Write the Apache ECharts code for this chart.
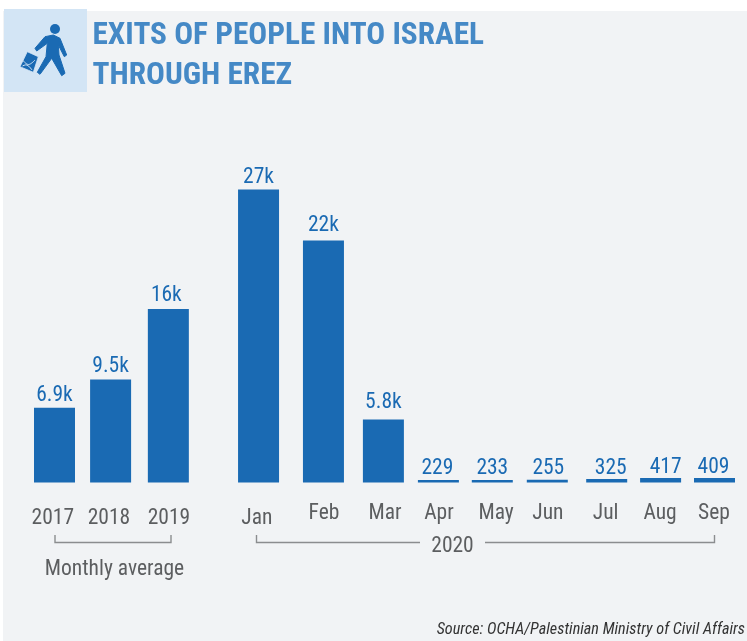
<!DOCTYPE html>
<html><head><meta charset="utf-8">
<style>html,body{margin:0;padding:0;background:#fff}#c{width:747px;height:641px}</style>
<script src="https://cdn.jsdelivr.net/npm/echarts@6/dist/echarts.min.js"></script>
</head><body><div id="c"></div>
<script>
const periods = ['2017','2018','2019','Jan','Feb','Mar','Apr','May','Jun','Jul','Aug','Sep'];
const exitsOfPeople = [6900,9500,16000,27000,22300,5800,229,233,255,325,417,409];
const valueLabels = ['6.9k','9.5k','16k','27k','22k','5.8k','229','233','255','325','417','409'];
const titleText = 'EXITS OF PEOPLE INTO ISRAEL\nTHROUGH EREZ';
const sourceText = 'Source: OCHA/Palestinian Ministry of Civil Affairs';
const groupAverage = 'Monthly average';
const groupYear = '2020';

// Layout only: the reference spaces its periods unevenly along the axis.
const barSlots = [0,1.02,2.07,3.71,4.89,5.98,6.98,7.96,8.96,10.04,11.02,12];
const labelSlots = [-0.03,0.99,2.08,3.68,4.9,6.01,6.99,8.03,8.97,10.02,11.01,11.99];
const lowLabelCount = 4;
const labelNudge = [[0,1],[0,0],[-2,0],[0,1],[0,-2],[0,-4],[-1,2],[0,2],[1,2],[4,3],[5,3],[-1,3]];

const FONT = '"Roboto Condensed",Roboto,sans-serif';
const BLUE = '#1a6ab3', GREY = '#5c5e60', RULE = '#8b8d8f', ICON_BG = '#d3e5f5';

const nameAt = v => {
  let best = 0;
  labelSlots.forEach((s,i) => { if (Math.abs(s-v) < Math.abs(labelSlots[best]-v)) best = i; });
  return periods[best];
};
const rule = pts => ({type:'polyline', silent:true, shape:{points:pts}, style:{stroke:RULE, lineWidth:1.4, fill:null}});
const label = (text,x,y,size,extra) => ({type:'text', silent:true, x, y, style:Object.assign({
  text, fontFamily:FONT, fontSize:size, fill:GREY, align:'center', verticalAlign:'middle'}, extra||{})});
const bagLine = pts => ({type:'polyline', silent:true, shape:{points:pts, smooth:0.4}, style:{stroke:ICON_BG, lineWidth:1, fill:null}});

const xAxisBase = {type:'value', min:-1, max:13, splitLine:{show:false}, axisLine:{show:false}, axisTick:{show:false}, position:'bottom'};
const axisText = {fontFamily:FONT, fontSize:21.5, color:GREY, formatter:nameAt, hideOverlap:false, showMinLabel:true, showMaxLabel:true};

const chart = echarts.init(document.getElementById('c'), null, {renderer:'canvas'});
chart.setOption({
  animation:false,
  backgroundColor:'#fff',
  title:{text:titleText, left:92.5, top:16, padding:0, textStyle:{fontFamily:FONT, fontSize:31.3, fontWeight:'bold', color:'#4589c6', lineHeight:40}},
  grid:{left:-0.5, right:-22.5, top:157, bottom:158.5, outerBoundsMode:'none'},
  xAxis:[
    Object.assign({}, xAxisBase, {axisLabel:Object.assign({}, axisText, {margin:20, customValues:labelSlots.slice(lowLabelCount)})}),
    Object.assign({}, xAxisBase, {axisLabel:Object.assign({}, axisText, {margin:25, customValues:labelSlots.slice(0,lowLabelCount)})})
  ],
  yAxis:{type:'value', min:0, max:30000, show:false},
  series:[{
    type:'bar', xAxisIndex:0, barWidth:41, itemStyle:{color:BLUE},
    data:exitsOfPeople.map((v,i) => ({
      value:[barSlots[i], v],
      label:{show:true, position:'top', distance:2, offset:labelNudge[i], formatter:valueLabels[i],
             fontFamily:FONT, fontSize:21.5, color:BLUE}
    }))
  }],
  graphic:{elements:[
    {type:'rect', z:-10, silent:true, shape:{x:3,y:11,width:744,height:630}, style:{fill:'#f1f3f5'}},
    {type:'rect', z:-9, silent:true, shape:{x:4,y:9,width:83,height:83}, style:{fill:ICON_BG}},
    {type:'circle', silent:true, shape:{cx:55,cy:29,r:5}, style:{fill:BLUE}},
    {type:'polygon', silent:true, shape:{points:[[35,48.3],[45,36.7],[53.3,35],[60,38.3],[66.7,55],[64.3,56.7],[58.3,45],[59,55],[65,73.3],[61.7,75.7],[51.7,58.3],[40,74.3],[37.3,72.3],[46,56.7],[47.3,43.3],[36.7,51]]},
      style:{fill:BLUE, stroke:BLUE, lineWidth:1, lineJoin:'round'}},
    {type:'polygon', silent:true, shape:{points:[[27.3,51.7],[38.3,56.7],[33.3,72.3],[20,66.7]]}, style:{fill:BLUE, stroke:ICON_BG, lineWidth:0.8}},
    bagLine([[22.5,60],[28.5,64.5],[35,60]]),
    bagLine([[22.5,66],[27,65],[32,70]]),
    rule([[55,535],[55,542.5],[171,542.5],[171,535]]),
    rule([[256.5,535],[256.5,542.5],[420,542.5]]),
    rule([[485,542.5],[714.5,542.5],[714.5,535]]),
    label(groupYear,452.5,547,21.5),
    label(groupAverage,114.5,570,21.5),
    label(sourceText,745,630,16.2,{align:'right', fontStyle:'italic', fill:'#333'})
  ]}
});
</script></body></html>
